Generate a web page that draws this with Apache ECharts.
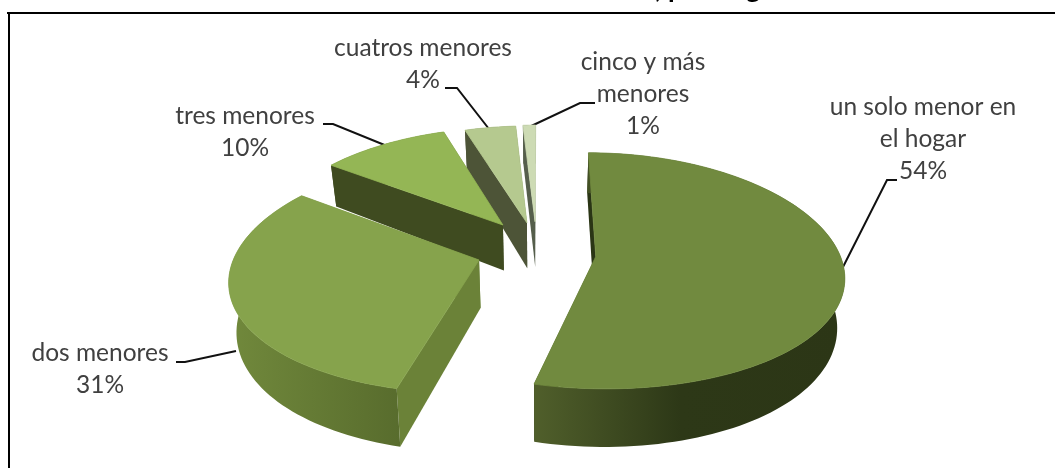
<!DOCTYPE html>
<html>
<head>
<meta charset="utf-8">
<style>
  html, body { margin: 0; padding: 0; background: #fff; }
  #chart { width: 1055px; height: 468px; }
</style>
<script src="https://cdn.jsdelivr.net/npm/echarts@6/dist/echarts.min.js"></script>
</head>
<body>
<div id="chart"></div>
<script>
const categories = ['un solo menor en\nel hogar', 'dos menores', 'tres menores', 'cuatros menores', 'cinco y más\nmenores']
const values = [54, 31, 10, 4, 1]

// colores de cada porcion
const topColors = ['#718a3f', '#86a34c', '#94b655', '#b5c98f', '#cddbb4']
const wallColors = ['#2a3515', '#6b8238', '#3f4b20', '#4d5437', '#555e4b']
const rimStops = [
  [[0, '#505f2b'], [0.47, '#2d3817'], [1, '#2c3616']],
  [[0, '#71893c'], [1, '#586c2d']],
  [[0, '#3f4b20'], [1, '#3f4b20']],
  [[0, '#4d5437'], [1, '#4d5437']],
  [[0, '#555e4b'], [1, '#555e4b']]
]

// desplazamiento de cada porcion (pie explotado)
const explodeX = [0.228, -0.248, -0.158, -0.056, -0.021]
const explodeV = [0.1, 0.13, -0.18, -0.2, -0.21]

// etiquetas y lineas guia
const labelCenters = [[923, 107], [100, 353], [245, 116], [423, 48], [643, 62]]
const leaders = [
  [[843, 267], [887, 180], [897, 180]],
  [[236, 351], [185, 362], [176, 362]],
  [[387, 146], [333, 124], [323, 124]],
  [[489, 129], [457, 88], [445, 88]],
  [[527, 128], [580, 103], [595, 103]]
]

const total = values.reduce((a, b) => a + b, 0)
const startAngles = []
values.reduce((acc, v, i) => {
  startAngles[i] = acc
  return acc + v / total * Math.PI * 2
}, 0)

const vpx = 540, cy = 245, R = 241, Ry = 113.5
const kx = -0.15, ky = -0.12
const depth = 47, bottomScale = 0.975

// proyeccion en perspectiva del plano del pie a pixeles
function project(X, V, low) {
  let sx = 1 / (1 + kx * V)
  let sy = 1 / (1 + ky * V)
  let x = vpx + R * X * sx
  let y = cy + Ry * V * sy
  if (low) {
    x = vpx + (x - vpx) * bottomScale
    y += depth * Math.pow(sy, 1.5)
  }
  return [x, y]
}

function renderSlice(params, api) {
  let i = api.value(0)
  let a0 = startAngles[i]
  let a1 = a0 + api.value(1) / total * Math.PI * 2
  let ox = explodeX[i], ov = explodeV[i]

  let top = [], low = []
  let n = Math.max(4, Math.ceil((a1 - a0) / 0.03))
  for (let k = 0; k <= n; k++) {
    let a = a0 + (a1 - a0) * k / n
    let X = ox + Math.sin(a), V = ov - Math.cos(a)
    top.push(project(X, V, false))
    low.push(project(X, V, true))
  }
  let apexTop = project(ox, ov, false)
  let apexLow = project(ox, ov, true)

  let poly = (points, fill, stroke) => ({
    type: 'polygon',
    shape: { points: points },
    style: { fill: fill, stroke: stroke, lineWidth: stroke ? 0.8 : 0 }
  })
  let gradient = new echarts.graphic.LinearGradient(0, 0, 1, 0,
    rimStops[i].map(s => ({ offset: s[0], color: s[1] })))

  return {
    type: 'group',
    children: [
      poly([apexTop, top[n], low[n], apexLow], wallColors[i]),
      poly([apexTop, top[0], low[0], apexLow], wallColors[i]),
      poly(top.concat(low.slice().reverse()), gradient),
      poly([apexTop].concat(top), topColors[i], topColors[i])
    ]
  }
}

let myChart = echarts.init(document.getElementById('chart'), null, { renderer: 'canvas' })

let graphics = [
  { type: 'line', shape: { x1: 7, y1: 13, x2: 1055, y2: 13 }, style: { stroke: '#000', lineWidth: 2 } },
  { type: 'line', shape: { x1: 9, y1: 12, x2: 9, y2: 468 }, style: { stroke: '#000', lineWidth: 2 } },
  {
    type: 'text', x: 655, y: -24,
    style: { text: ', por hogar', font: 'bold 27px Lato', fill: '#000' }
  }
]
values.forEach((v, i) => {
  graphics.push({
    type: 'polyline',
    shape: { points: leaders[i] },
    style: { stroke: '#111', lineWidth: 2, fill: null }
  })
  graphics.push({
    type: 'text', x: labelCenters[i][0], y: labelCenters[i][1] - 16,
    style: {
      text: categories[i] + '\n' + v + '%',
      font: '24.5px Lato',
      fill: '#404040',
      align: 'center',
      lineHeight: 32
    }
  })
})

let option = {
  animation: false,
  backgroundColor: '#fff',
  graphic: { elements: graphics },
  series: [
    {
      type: 'custom',
      coordinateSystem: 'none',
      renderItem: renderSlice,
      // de atras hacia adelante
      data: values.map((v, i) => [i, v]).reverse()
    }
  ]
}
myChart.setOption(option)

window.addEventListener('resize', () => {
  myChart.resize()
})
</script>
</body>
</html>
